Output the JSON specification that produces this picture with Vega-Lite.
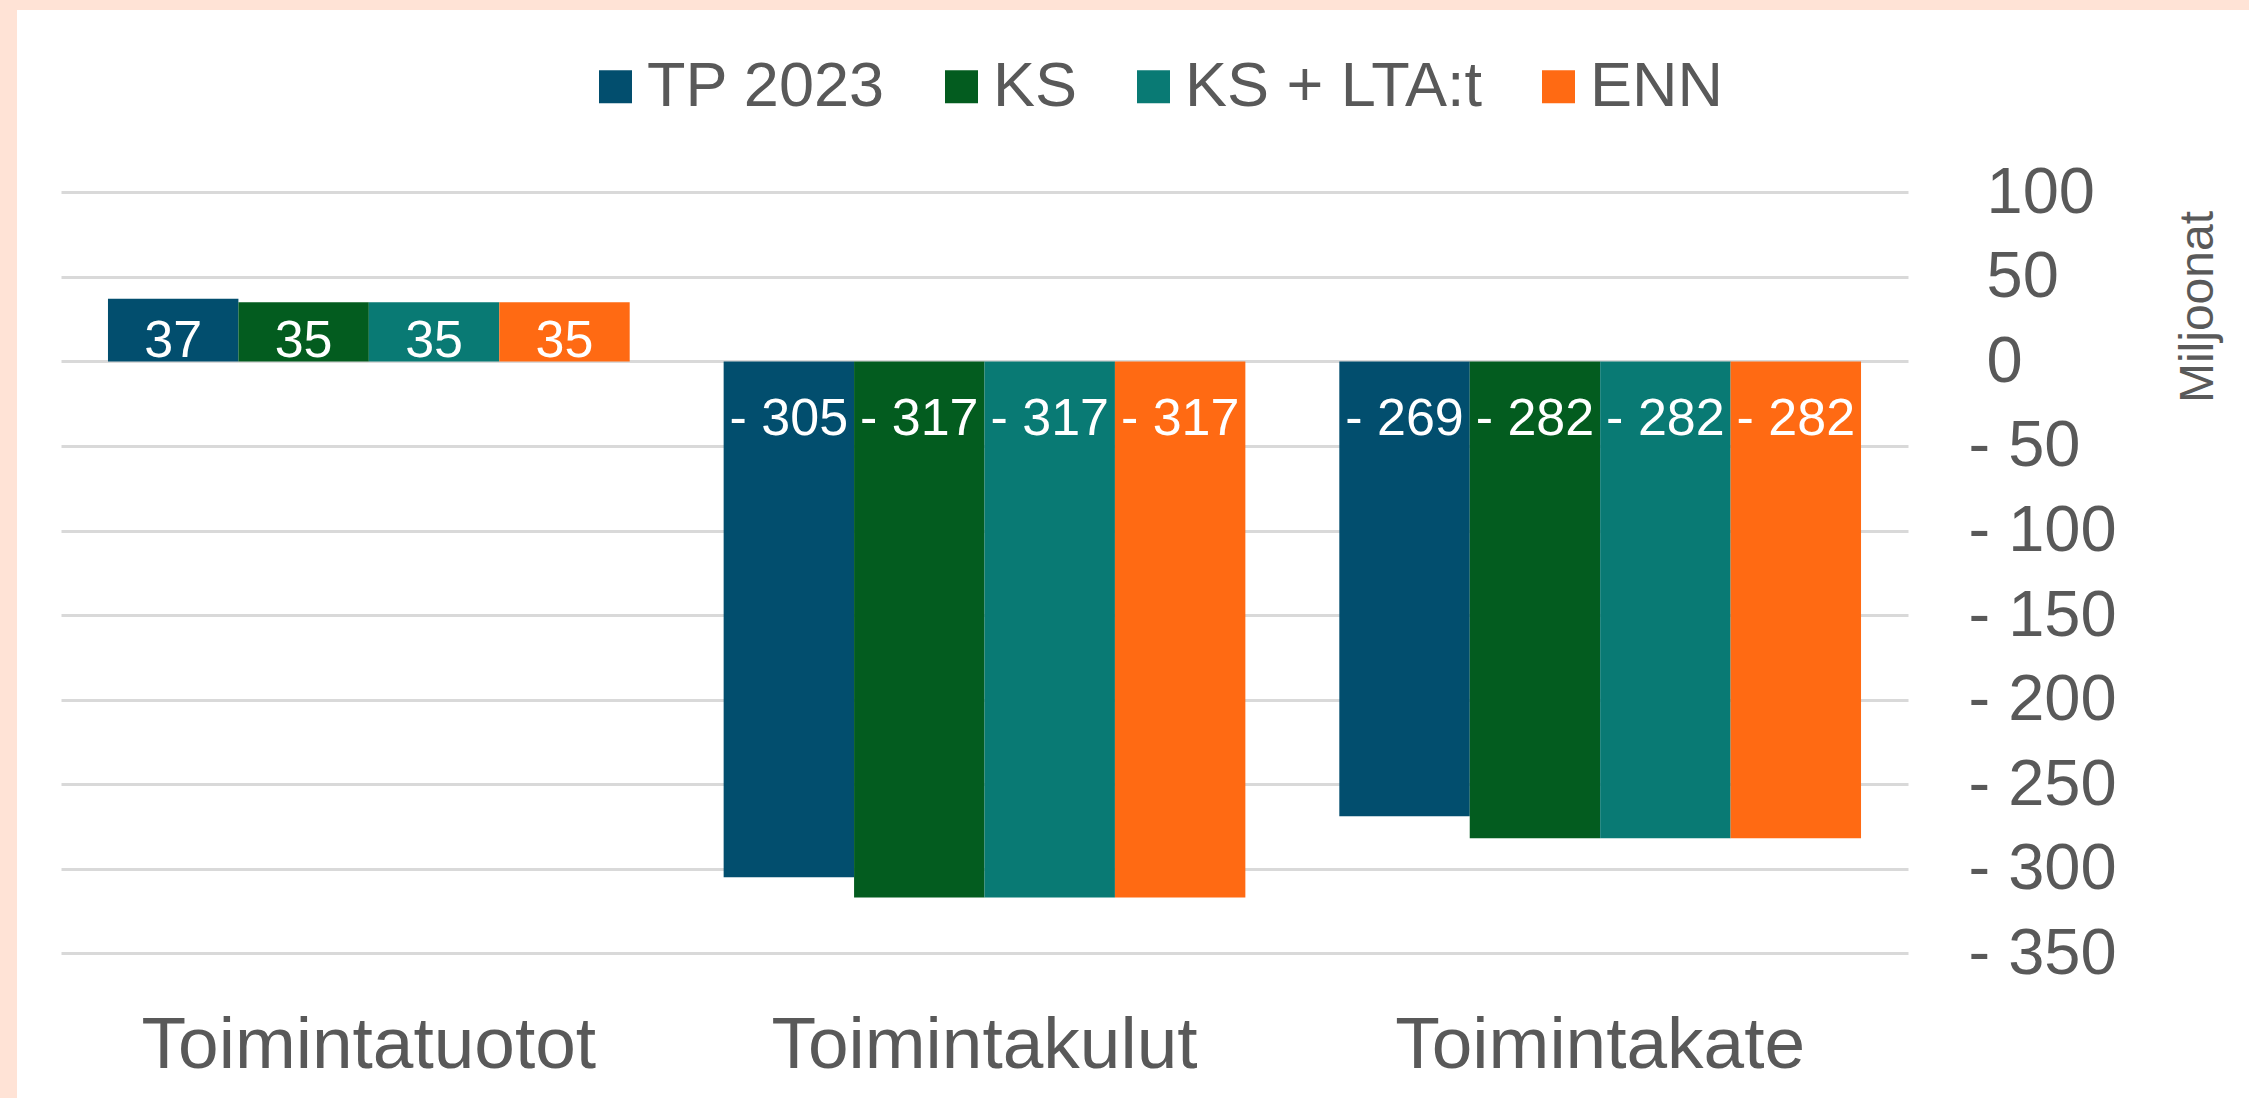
{
  "$schema": "https://vega.github.io/schema/vega-lite/v6.json",
  "width": 2232,
  "height": 1088,
  "autosize": {"type": "none"},
  "padding": {"left": 17, "top": 10, "right": 0, "bottom": 0},
  "background": "#FFE3D6",
  "config": {
    "view": {"fill": "#FFFFFF", "stroke": null},
    "font": "Liberation Sans",
    "locale": {"number": {"decimal": ",", "thousands": " ", "grouping": [3], "currency": ["", " €"], "minus": "- "}}
  },
  "data": {
    "values": [
      {"category": "Toimintatuotot", "series": "TP 2023", "value": 37},
      {"category": "Toimintatuotot", "series": "KS", "value": 35},
      {"category": "Toimintatuotot", "series": "KS + LTA:t", "value": 35},
      {"category": "Toimintatuotot", "series": "ENN", "value": 35},
      {"category": "Toimintakulut", "series": "TP 2023", "value": -305},
      {"category": "Toimintakulut", "series": "KS", "value": -317},
      {"category": "Toimintakulut", "series": "KS + LTA:t", "value": -317},
      {"category": "Toimintakulut", "series": "ENN", "value": -317},
      {"category": "Toimintakate", "series": "TP 2023", "value": -269},
      {"category": "Toimintakate", "series": "KS", "value": -282},
      {"category": "Toimintakate", "series": "KS + LTA:t", "value": -282},
      {"category": "Toimintakate", "series": "ENN", "value": -282}
    ]
  },
  "encoding": {
    "x": {
      "field": "category", "type": "nominal",
      "sort": ["Toimintatuotot", "Toimintakulut", "Toimintakate"],
      "scale": {"range": [44, 1891], "paddingInner": 0.1526, "paddingOuter": 0.0763},
      "axis": {
        "orient": "bottom", "offset": -144.7, "domain": false, "ticks": false, "tickSize": 0, "grid": false,
        "labelFont": "Liberation Sans", "labelFontSize": 73, "labelColor": "#595959",
        "labelPadding": 114, "labelBaseline": "alphabetic", "labelAngle": 0, "labelLimit": 0, "title": null
      }
    },
    "xOffset": {
      "field": "series", "type": "nominal",
      "sort": ["TP 2023", "KS", "KS + LTA:t", "ENN"],
      "scale": {"paddingInner": 0, "paddingOuter": 0}
    }
  },
  "layer": [
    {
      "mark": {"type": "bar"},
      "encoding": {
        "y": {
          "field": "value", "type": "quantitative",
          "scale": {"domain": [-350, 100], "nice": false, "range": [943.3, 182.3]},
          "axis": {
            "orient": "left", "offset": 0,
            "values": [-350, -300, -250, -200, -150, -100, -50, 0, 50, 100],
            "domain": false, "ticks": false, "tickSize": 0, "labels": false,
            "grid": true, "gridColor": "#D9D9D9", "gridWidth": 3,
            "title": null
          }
        },
        "color": {
          "field": "series", "type": "nominal",
          "scale": {"domain": ["TP 2023", "KS", "KS + LTA:t", "ENN"], "range": ["#024E6E", "#035C1F", "#097A74", "#FF6A13"]},
          "legend": {
            "orient": "none", "legendX": 567, "legendY": 45, "direction": "horizontal",
            "title": null, "symbolType": "square", "symbolSize": 1089, "symbolStrokeWidth": 0,
            "labelFont": "Liberation Sans", "labelFontSize": 63, "labelColor": "#595959",
            "labelOffset": 0, "columnPadding": 44, "padding": 0, "labelLimit": 0
          }
        }
      }
    },
    {
      "transform": [{"filter": "datum.value >= 0"}],
      "mark": {"type": "text", "font": "Liberation Sans", "fontSize": 52, "color": "#FFFFFF", "align": "center", "baseline": "alphabetic", "dy": -4},
      "encoding": {
        "y": {
          "datum": 0, "type": "quantitative",
          "axis": {
            "orient": "right", "offset": -341,
            "values": [-350, -300, -250, -200, -150, -100, -50, 0, 50, 100],
            "domain": false, "ticks": false, "tickSize": 0, "grid": false,
            "labelFont": "Liberation Sans", "labelFontSize": 65, "labelColor": "#595959",
            "labelAlign": "left", "labelBaseline": "middle",
            "labelPadding": {"condition": {"test": "datum.value < 0", "value": 60}, "value": 78},
            "labelOverlap": false, "labelFlush": false,
            "title": "Miljoonat", "titleFont": "Liberation Sans", "titleFontSize": 48,
            "titleColor": "#595959", "titleFontWeight": "normal",
            "titleAngle": 270, "titleAlign": "center", "titleBaseline": "alphabetic",
            "titleX": 304, "titleY": 296.5
          }
        },
        "text": {"field": "value", "type": "quantitative", "format": "d"}
      }
    },
    {
      "transform": [{"filter": "datum.value < 0"}],
      "mark": {"type": "text", "font": "Liberation Sans", "fontSize": 52, "color": "#FFFFFF", "align": "center", "baseline": "alphabetic", "dy": 74},
      "encoding": {
        "y": {"datum": 0, "type": "quantitative", "axis": null},
        "text": {"field": "value", "type": "quantitative", "format": "d"}
      }
    }
  ],
  "resolve": {"axis": {"y": "independent"}}
}
